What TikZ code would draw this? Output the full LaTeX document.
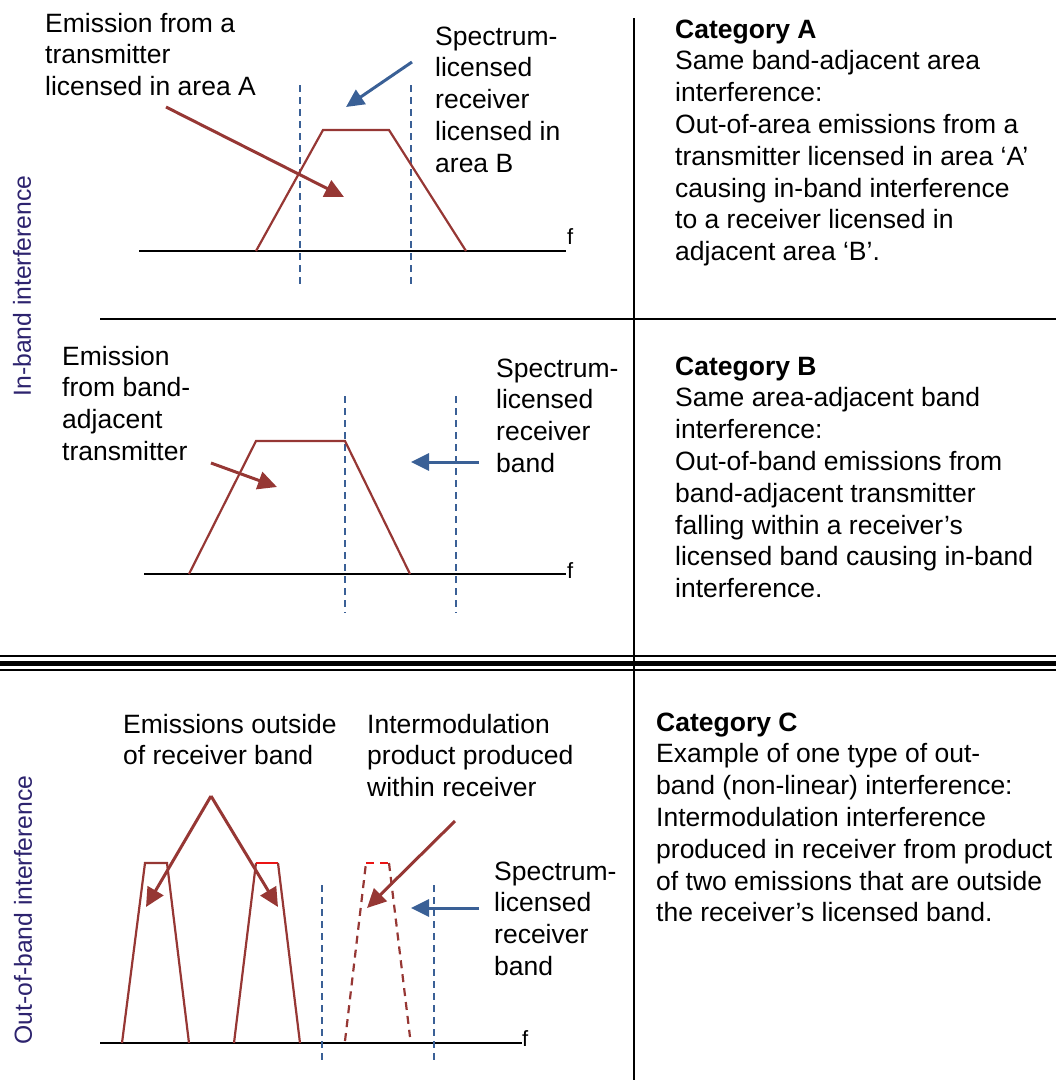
\documentclass[tikz,border=0pt]{standalone}
\usepackage{fontspec}
\setmainfont{Liberation Sans}
\usetikzlibrary{arrows.meta}

\definecolor{emitred}{RGB}{150,55,52}
\definecolor{brightred}{RGB}{235,20,20}
\definecolor{rxblue}{RGB}{58,96,150}
\definecolor{sidenavy}{RGB}{45,35,110}

\newcommand\txtsize{\fontsize{26.5}{31.8}\selectfont}
\newcommand\fsize{\fontsize{22}{26}\selectfont}
\newcommand\sidesize{\fontsize{24.7}{29}\selectfont}

\tikzset{
  body/.style={font=\txtsize, align=left, anchor=north west, inner sep=0pt},
  flabel/.style={font=\fsize, anchor=base west, inner sep=0pt},
  sidelabel/.style={font=\sidesize, text=sidenavy, rotate=90, inner sep=0pt},
  rule/.style={line width=2pt, black},
  axis/.style={line width=2.2pt, black},
  emission/.style={line width=2.2pt, emitred, line join=miter},
  imd/.style={line width=2.2pt, emitred, dash pattern=on 8pt off 6pt},
  bandedge/.style={line width=1.8pt, rxblue, dash pattern=on 7pt off 5pt},
  redarrow/.style={line width=3pt, emitred, -{Triangle[length=19pt,width=18pt]}},
  bluearrow/.style={line width=3pt, rxblue, -{Triangle[length=18pt,width=17pt]}},
}

\begin{document}
\begin{tikzpicture}[x=1pt,y=-1pt]
\useasboundingbox (0,0) rectangle (1056,1080);

% ---------- table rules ----------
\draw[rule] (634,18) -- (634,1080);
\draw[rule] (100,319) -- (1056,319);
\draw[line width=2pt] (0,656.3) -- (1056,656.3);
\draw[line width=5pt] (0,663.5) -- (1056,663.5);
\draw[line width=2pt] (0,669.8) -- (1056,669.8);

% ---------- side labels ----------
\node[sidelabel] (inband) at (22,286) {In-band interference};
\node[sidelabel] (outband) at (23,910) {Out-of-band interference};

% ---------- Category A: in-band, adjacent area ----------
\coordinate (axA0) at (139,251);
\coordinate (axA1) at (566,251);
\draw[axis] (axA0) -- (axA1);
\node[flabel] (fA) at (567,244) {f};
\draw[bandedge] (300,85) -- (300,286);
\draw[bandedge] (411,85) -- (411,286);
\draw[emission] (256,251) -- (323,130) -- (389,130) -- (466,251);

\node[body] (emA) at (45,9.7) {\strut Emission from a\\transmitter\\licensed in area A};
\node[body] (specA) at (435,22.7) {\strut Spectrum-\\licensed\\receiver\\licensed in\\area B};
\coordinate (emAstart) at (166,107);
\coordinate (emAtip) at (344,197);
\draw[redarrow] (emAstart) -- (emAtip);
\coordinate (rxAstart) at (412,62);
\coordinate (rxAtip) at (346,107);
\draw[bluearrow] (rxAstart) -- (rxAtip);

\node[body] (catA) at (675,15.7) {\strut\textbf{Category A}\\Same band-adjacent area\\interference:\\Out-of-area emissions from a\\transmitter licensed in area ‘A’\\causing in-band interference\\to a receiver licensed in\\adjacent area ‘B’.};

% ---------- Category B: in-band, adjacent band ----------
\coordinate (axB0) at (144,574);
\coordinate (axB1) at (566,574);
\draw[axis] (axB0) -- (axB1);
\node[flabel] (fB) at (567,578) {f};
\draw[bandedge] (345,396) -- (345,613);
\draw[bandedge] (456,396) -- (456,613);
\draw[emission] (189,574) -- (256,441) -- (345,441) -- (410,574);

\node[body] (emB) at (62,342.7) {\strut Emission\\from band-\\adjacent\\transmitter};
\node[body] (specB) at (496,354.7) {\strut Spectrum-\\licensed\\receiver\\band};
\coordinate (emBstart) at (211,463);
\coordinate (emBtip) at (277,487);
\draw[redarrow] (emBstart) -- (emBtip);
\coordinate (rxBstart) at (479,462);
\coordinate (rxBtip) at (411,462);
\draw[bluearrow] (rxBstart) -- (rxBtip);

\node[body] (catB) at (675,352.7) {\strut\textbf{Category B}\\Same area-adjacent band\\interference:\\Out-of-band emissions from\\band-adjacent transmitter\\falling within a receiver’s\\licensed band causing in-band\\interference.};

% ---------- Category C: out-of-band, intermodulation ----------
\coordinate (axC0) at (100,1043);
\coordinate (axC1) at (522,1043);
\draw[axis] (axC0) -- (axC1);
\node[flabel] (fC) at (522,1046) {f};
\draw[bandedge] (322,885) -- (322,1060);
\draw[bandedge] (434,885) -- (434,1060);
% two emissions outside the receiver band
\draw[emission] (122,1043) -- (145,863) -- (167,863) -- (189,1043);
\draw[emission] (234,1043) -- (256,863);
\draw[line width=2.2pt, brightred] (256,863) -- (278,863);
\draw[emission] (278,863) -- (300,1043);
% intermodulation product inside the receiver
\draw[imd] (345,1041) -- (366,863);
\draw[line width=2.2pt, brightred, dash pattern=on 8pt off 6pt] (366,863) -- (389,863);
\draw[imd] (389,863) -- (410,1037);

\node[body] (emC) at (123,710.7) {\strut Emissions outside\\of receiver band};
\node[body] (imC) at (367,710.7) {\strut Intermodulation\\product produced\\within receiver};
\node[body] (specC) at (494,857.7) {\strut Spectrum-\\licensed\\receiver\\band};
\coordinate (apex) at (211,796);
\coordinate (emCtipL) at (146,907);
\coordinate (emCtipR) at (278,907);
\draw[redarrow] (apex) -- (emCtipL);
\draw[redarrow] (apex) -- (emCtipR);
\coordinate (imCstart) at (455,821);
\coordinate (imCtip) at (367,908);
\draw[redarrow] (imCstart) -- (imCtip);
\coordinate (rxCstart) at (479,908);
\coordinate (rxCtip) at (411,908);
\draw[bluearrow] (rxCstart) -- (rxCtip);

\node[body] (catC) at (656,708.7) {\strut\textbf{Category C}\\Example of one type of out-\\band (non-linear) interference:\\Intermodulation interference\\produced in receiver from product\\of two emissions that are outside\\the receiver’s licensed band.};

\end{tikzpicture}
\end{document}
